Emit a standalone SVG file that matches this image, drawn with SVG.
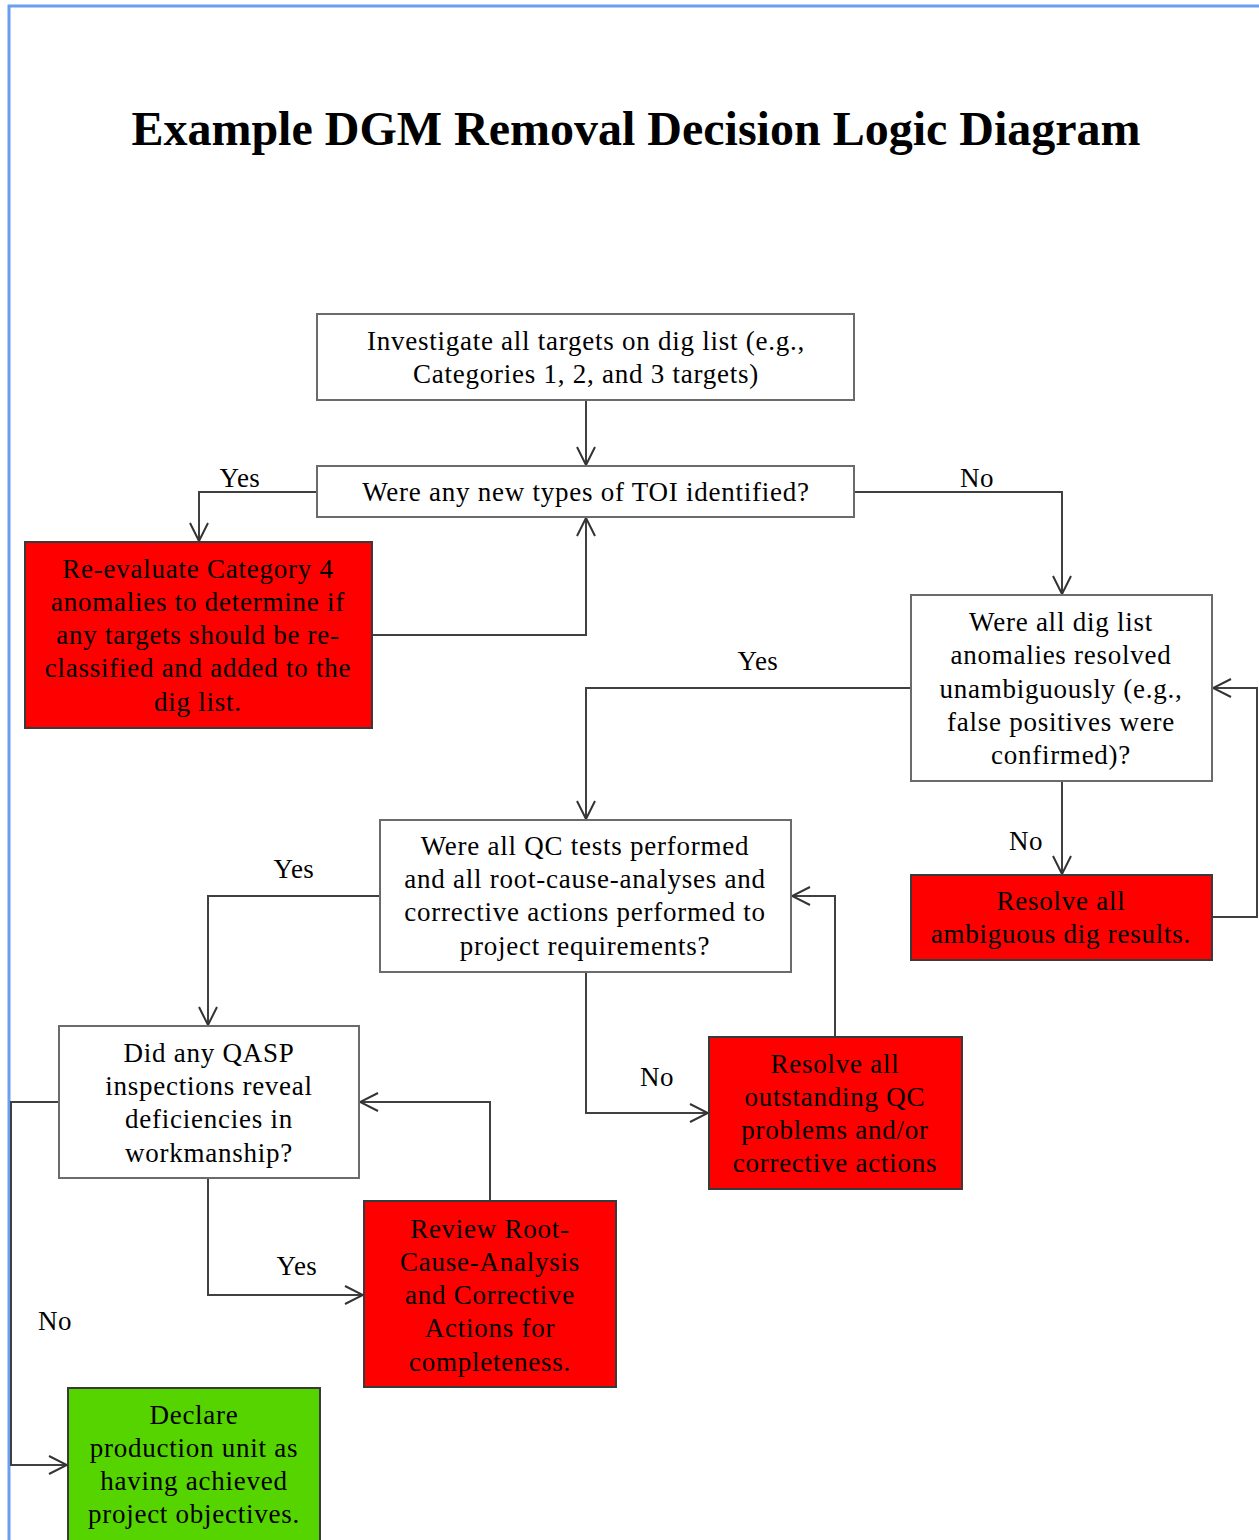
<svg xmlns="http://www.w3.org/2000/svg" width="1259" height="1540" viewBox="0 0 1259 1540">
<style>
.t{font-family:"Liberation Serif","Times New Roman",serif;font-size:27px;fill:#000;text-anchor:middle;letter-spacing:0.75px}
.lbl{font-family:"Liberation Serif","Times New Roman",serif;font-size:27px;fill:#000;text-anchor:middle;letter-spacing:0.5px}
.title{font-family:"Liberation Serif","Times New Roman",serif;font-size:48px;font-weight:bold;fill:#000;text-anchor:middle}
.w{fill:#fff;stroke:#6b6b6b;stroke-width:2}
.r{fill:#ff0000;stroke:#3a3a3a;stroke-width:2}
.g{fill:#55d400;stroke:#3a3a3a;stroke-width:2}
.c{fill:none;stroke:#404040;stroke-width:2;marker-end:url(#a)}
</style>
<defs>
<marker id="a" viewBox="0 0 20 20" refX="19" refY="10" markerWidth="20" markerHeight="20" markerUnits="userSpaceOnUse" orient="auto">
<path d="M1,1 L19,10 L1,19" fill="none" stroke="#333" stroke-width="2"/>
</marker>
</defs>
<rect width="1259" height="1540" fill="#fff"/>
<path d="M9,1540 V6 H1259" fill="none" stroke="#6c9ef0" stroke-width="3"/>
<text class="title" x="636" y="145">Example DGM Removal Decision Logic Diagram</text>

<g id="connectors">
<path class="c" d="M586,400 V465"/>
<path class="c" d="M317,492 H199 V541"/>
<path class="c" d="M372,635 H586 V518"/>
<path class="c" d="M854,492 H1062 V594"/>
<path class="c" d="M911,688 H586 V819"/>
<path class="c" d="M1062,781 V874"/>
<path class="c" d="M1212,917 H1257 V688 H1213"/>
<path class="c" d="M380,896 H208 V1025"/>
<path class="c" d="M586,972 V1113 H708"/>
<path class="c" d="M835,1037 V896 H792"/>
<path class="c" d="M208,1178 V1295 H363"/>
<path class="c" d="M490,1201 V1102 H360"/>
<path class="c" d="M59,1102 H11 V1465 H67"/>
<text class="lbl" x="240" y="487">Yes</text>
<text class="lbl" x="977" y="487">No</text>
<text class="lbl" x="758" y="670">Yes</text>
<text class="lbl" x="1026" y="850">No</text>
<text class="lbl" x="294" y="878">Yes</text>
<text class="lbl" x="657" y="1086">No</text>
<text class="lbl" x="297" y="1275">Yes</text>
<text class="lbl" x="55" y="1330">No</text>
</g>

<g id="n1">
<rect class="w" x="317" y="314" width="537" height="86"/>
<text class="t" x="586" y="350">Investigate all targets on dig list (e.g.,</text>
<text class="t" x="586" y="383">Categories 1, 2, and 3 targets)</text>
</g>
<g id="n2">
<rect class="w" x="317" y="466" width="537" height="51"/>
<text class="t" x="586" y="501">Were any new types of TOI identified?</text>
</g>
<g id="n3">
<rect class="r" x="25" y="542" width="347" height="186"/>
<text class="t" x="198" y="578">Re-evaluate Category 4</text>
<text class="t" x="198" y="611">anomalies to determine if</text>
<text class="t" x="198" y="644">any targets should be re-</text>
<text class="t" x="198" y="677">classified and added to the</text>
<text class="t" x="198" y="711">dig list.</text>
</g>
<g id="n4">
<rect class="w" x="911" y="595" width="301" height="186"/>
<text class="t" x="1061" y="631">Were all dig list</text>
<text class="t" x="1061" y="664">anomalies resolved</text>
<text class="t" x="1061" y="698">unambiguously (e.g.,</text>
<text class="t" x="1061" y="731">false positives were</text>
<text class="t" x="1061" y="764">confirmed)?</text>
</g>
<g id="n5">
<rect class="r" x="911" y="875" width="301" height="85"/>
<text class="t" x="1061" y="910">Resolve all</text>
<text class="t" x="1061" y="943">ambiguous dig results.</text>
</g>
<g id="n6">
<rect class="w" x="380" y="820" width="411" height="152"/>
<text class="t" x="585" y="855">Were all QC tests performed</text>
<text class="t" x="585" y="888">and all root-cause-analyses and</text>
<text class="t" x="585" y="921">corrective actions performed to</text>
<text class="t" x="585" y="955">project requirements?</text>
</g>
<g id="n7">
<rect class="w" x="59" y="1026" width="300" height="152"/>
<text class="t" x="209" y="1062">Did any QASP</text>
<text class="t" x="209" y="1095">inspections reveal</text>
<text class="t" x="209" y="1128">deficiencies in</text>
<text class="t" x="209" y="1162">workmanship?</text>
</g>
<g id="n8">
<rect class="r" x="709" y="1037" width="253" height="152"/>
<text class="t" x="835" y="1073">Resolve all</text>
<text class="t" x="835" y="1106">outstanding QC</text>
<text class="t" x="835" y="1139">problems and/or</text>
<text class="t" x="835" y="1172">corrective actions</text>
</g>
<g id="n9">
<rect class="r" x="364" y="1201" width="252" height="186"/>
<text class="t" x="490" y="1238">Review Root-</text>
<text class="t" x="490" y="1271">Cause-Analysis</text>
<text class="t" x="490" y="1304">and Corrective</text>
<text class="t" x="490" y="1337">Actions for</text>
<text class="t" x="490" y="1371">completeness.</text>
</g>
<g id="n10">
<rect class="g" x="68" y="1388" width="252" height="160"/>
<text class="t" x="194" y="1424">Declare</text>
<text class="t" x="194" y="1457">production unit as</text>
<text class="t" x="194" y="1490">having achieved</text>
<text class="t" x="194" y="1523">project objectives.</text>
</g>
</svg>
